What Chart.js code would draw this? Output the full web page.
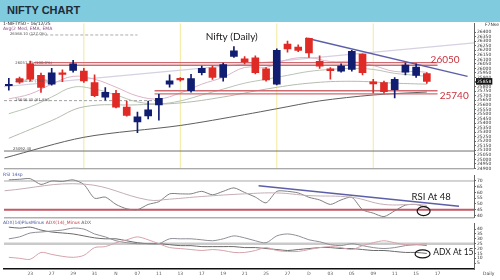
<!DOCTYPE html>
<html>
<head>
<meta charset="utf-8">
<script src="https://cdn.jsdelivr.net/npm/chart.js@4.4.1/dist/chart.umd.min.js"></script>
<style>
  html, body { margin: 0; padding: 0; background: #fff; }
  #wrap { position: relative; width: 500px; height: 280px; overflow: hidden; background: #fff; }
  #head { position: absolute; left: 0; top: 0; width: 500px; height: 22px; background: #80cbdd; }
  #head span { position: absolute; left: 7px; top: 4px; font: bold 11px 'Liberation Sans Narrow', 'Liberation Sans', sans-serif; color: #1d2a3a; }
  canvas { position: absolute; left: 0; }
</style>
</head>
<body>
<div id="wrap">
  <div id="head"><span>NIFTY CHART</span></div>
  <canvas id="priceChart" width="500" height="152" style="top:20px"></canvas>
  <canvas id="rsiChart" width="500" height="49" style="top:172px"></canvas>
  <canvas id="adxChart" width="500" height="60" style="top:220px"></canvas>
</div>
<script>
// Velas diarias (índice 0 = 20 oct ... 39 = 16 dic)
const opens = [25810, 25889, 26051, 25924, 25827, 25940, 25978, 25971, 25845, 25683, 25726, 25575, 25413, 25478, 25600, 25827, 25892, 25755, 25953, 26008, 25900, 26133, 26105, 26116, 25997, 25827, 26267, 26234, 26332, 26079, 25997, 25971, 25989, 26159, 25852, 25845, 25766, 25960, 25924, 25943]
const closes = [25825, 25850, 25881, 25791, 25953, 25935, 26051, 25863, 25700, 25737, 25575, 25484, 25467, 25546, 25672, 25863, 25873, 25889, 26000, 25900, 26043, 26195, 26072, 25953, 25873, 26198, 26216, 26198, 26170, 26025, 25975, 26025, 26187, 25953, 25830, 25744, 25881, 26036, 26014, 25858]
const highs = [25890, 25905, 26080, 25950, 26000, 25985, 26090, 26000, 25930, 25790, 25760, 25640, 25521, 25640, 25715, 25930, 25900, 25935, 26025, 26030, 26060, 26240, 26130, 26140, 26010, 26215, 26300, 26260, 26335, 26140, 26010, 26050, 26200, 26160, 25880, 25860, 25900, 26060, 26050, 25955]
const lows = [25760, 25835, 25860, 25735, 25815, 25855, 25960, 25845, 25690, 25650, 25565, 25475, 25294, 25445, 25430, 25795, 25860, 25740, 25930, 25880, 25860, 26120, 26050, 25940, 25860, 25820, 26180, 26185, 26120, 26000, 25881, 25960, 25970, 25930, 25730, 25728, 25675, 25930, 25900, 25835]

// Medias móviles (cada dos velas)
const maIdx = [0, 2, 4, 6, 8, 10, 12, 14, 16, 18, 20, 22, 24, 26, 28, 30, 32, 34, 36, 38, 39]
const maFast = [25665, 25719, 25827, 25913, 25881, 25794, 25697, 25665, 25730, 25827, 25903, 26011, 26011, 26097, 26119, 26076, 26076, 26032, 25967, 25967, 25957]
const maMid = [25502, 25578, 25686, 25794, 25773, 25708, 25632, 25611, 25643, 25708, 25773, 25838, 25881, 25924, 25967, 25989, 26000, 25989, 25946, 25924, 25913]
const maSlowIdx = [0, 4, 7, 12, 16, 20, 24, 28, 32, 36, 39]
const maSlow = [25232, 25427, 25578, 25600, 25621, 25686, 25773, 25838, 25859, 25838, 25827]
const maLongIdx = [-0.4, 7, 16, 22, 25, 29, 34, 39]
const maLong = [25016, 25243, 25373, 25492, 25557, 25643, 25708, 25741]

// Niveles y líneas de tendencia
const resistance = 26050
const support = 25740
const fibValues = [26368, 26052, 25850, 25646]
const fibText = ['26368.10 (127.0%)', '26051.75 (100.0%)', '25850.20 (78.6%)', '25646.35 (61.8%)']
const baseLevel = 25092
const baseText = '25092.40'
const trendIdx = [27.7, 42.8]
const trendPrice = [26335, 25913]
const channelIdx = [-0.45, 43.4]
const channelPrice = [25799, 26281]
const cycleIdx = [7, 16, 25, 34]

// RSI
const rsi = [71, 71.5, 72, 67, 70, 69.6, 71, 67, 55, 56, 49.6, 45.8, 45, 49.6, 52, 58.8, 58.8, 58.8, 61, 58, 61, 64, 60, 56, 51, 61, 61, 59.6, 55.8, 53.5, 49.6, 53.5, 55.8, 45, 42, 39, 44, 49, 49.5, 47]
const rsiAvgIdx = [-0.4, 7, 13, 15, 18, 22, 25, 28, 32, 35, 38, 39]
const rsiAvg = [61.5, 67.3, 53.5, 54.2, 56.5, 58.8, 59.6, 57.3, 55.8, 49.6, 49.6, 48.8]
const rsiTrendIdx = [23.3, 42]
const rsiTrend = [65.8, 48]
const rsiLevels = [70, 45]

// ADX
const adx = [42, 41, 42, 39, 37, 36, 35, 33, 31, 30, 30, 28, 26, 25, 25, 24, 23, 23, 22, 22, 22, 22, 21, 21, 20, 19, 18, 19, 20, 21, 21, 20, 20, 19, 18, 18, 17, 16, 16, 15]
const plusDI = [30, 32, 36, 37, 38, 39, 41, 40, 35, 32, 28, 26, 25, 25, 25, 30, 30, 30, 29, 28, 30, 33, 31, 28, 26, 33, 35, 33, 29, 27, 24, 23, 25, 23, 21, 20, 21, 23, 24, 23]
const minusDI = [11, 10, 9, 16, 14, 12, 11, 13, 21, 22, 26, 29, 32, 29, 25, 21, 20, 19, 18, 19, 18, 16, 16, 18, 21, 18, 17, 17, 19, 21, 22, 21, 19, 23, 26, 28, 26, 24, 24, 25]
const adxLevel = 25

// Ejes
const priceTicks = []
for (let v = 24900; v <= 26400; v += 50) priceTicks.push(v)
const rsiTicks = [70, 65, 60, 55, 50, 45, 40]
const adxTicks = [40, 35, 30, 25, 20, 15, 10, 5]
const dayTicks = [2, 4, 6, 8, 10, 12, 14, 16, 18, 20, 22, 24, 26, 28, 30, 32, 34, 36, 38, 40]
const dayLabels = ['23', '27', '29', '31', 'N', '07', '11', '13', '17', '19', '21', '25', '27', 'D', '03', '05', '09', '11', '15', '17']

const lastPrice = closes[closes.length - 1]
const xMin = -0.45
const xMax = 43.4
const RED = '#e02a26'
const NAVY = '#111d70'
const BLUE_LINE = '#5c5fa8'

Chart.defaults.font.family = 'DejaVu Sans'
Chart.defaults.animation = false

// Utilidades
const pts = (xs, ys) => xs.map((x, i) => ({ x, y: ys[i] }))
const series = (ys) => ys.map((y, i) => ({ x: i, y }))
const line = (data, color, width, extra = {}) => ({
  type: 'line',
  data,
  borderColor: color,
  borderWidth: width,
  pointRadius: 0,
  fill: false,
  order: 6,
  ...extra,
})
const hline = (value, from, to, color, width, extra = {}) =>
  line([{ x: from, y: value }, { x: to, y: value }], color, width, extra)

const rightAxis = (min, max, values, extra = {}) => ({
  position: 'right',
  min,
  max,
  afterBuildTicks: (s) => {
    s.ticks = values.map((v) => ({ value: v }))
  },
  afterFit: (s) => {
    s.width = 26
  },
  grid: { drawOnChartArea: false, tickLength: 2, color: '#666' },
  border: { display: true, color: '#666' },
  ticks: {
    autoSkip: false,
    padding: 1,
    color: '#333',
    font: { size: 4.5, lineHeight: 1 },
    callback: (v) => String(v),
    ...extra,
  },
})

const baseOptions = (yScale, padding, xExtra = {}) => ({
  responsive: false,
  animation: false,
  layout: { padding },
  plugins: { legend: { display: false }, tooltip: { enabled: false } },
  elements: { point: { radius: 0 } },
  scales: {
    x: { type: 'linear', min: xMin, max: xMax, offset: false, display: false, ...xExtra },
    y: yScale,
  },
})

function text(ctx, str, x, y, font, color, align = 'left', base = 'middle') {
  ctx.save()
  ctx.font = font
  ctx.fillStyle = color
  ctx.textAlign = align
  ctx.textBaseline = base
  ctx.fillText(str, x, y)
  ctx.restore()
}

function bottomBorder(chart, color, width) {
  const { ctx, chartArea } = chart
  ctx.save()
  ctx.strokeStyle = color
  ctx.lineWidth = width
  ctx.beginPath()
  ctx.moveTo(chartArea.left, chartArea.bottom)
  ctx.lineTo(chartArea.right, chartArea.bottom)
  ctx.stroke()
  ctx.restore()
}

function ellipse(chart, xv, yv, rx, ry) {
  const { ctx, scales } = chart
  ctx.save()
  ctx.strokeStyle = '#111'
  ctx.lineWidth = 1.2
  ctx.beginPath()
  ctx.ellipse(scales.x.getPixelForValue(xv), scales.y.getPixelForValue(yv), rx, ry, 0, 0, Math.PI * 2)
  ctx.stroke()
  ctx.restore()
}

// Gráfico de precio
const idx = closes.map((_, i) => i)
const candleColor = idx.map((i) => (closes[i] >= opens[i] ? NAVY : RED))

const priceNotes = {
  id: 'priceNotes',
  afterDatasetsDraw(chart) {
    const { ctx, scales: { x, y } } = chart
    bottomBorder(chart, '#8c8c8c', 1)
    text(ctx, '1-NIFTY50 - 16/12/25', 3, 4, '4.5px DejaVu Sans', '#222')
    text(ctx, 'Avg(2 Med, EMA, EMA', 3, 9, '4.5px DejaVu Sans', '#8a4a8a')
    text(ctx, 'F7Nse', 485, 5, '4.5px DejaVu Sans', '#333')
    fibValues.forEach((v, i) => {
      text(ctx, fibText[i], x.getPixelForValue(i === 0 ? 0.1 : 0.6), y.getPixelForValue(v) - 1, '3.8px DejaVu Sans', '#555')
    })
    text(ctx, baseText, x.getPixelForValue(0.4), y.getPixelForValue(baseLevel) - 2.5, '3.8px DejaVu Sans', '#444')
    text(ctx, 'Nifty (Daily)', x.getPixelForValue(20.8), y.getPixelForValue(26346), '10px Lato', '#1a1a1a', 'center')
    text(ctx, String(resistance), x.getPixelForValue(39.35), y.getPixelForValue(26062), '10px Lato', '#c8323c', 'left', 'alphabetic')
    text(ctx, String(support), x.getPixelForValue(40.2), y.getPixelForValue(25703), '10px Lato', '#c8323c')
  },
}

new Chart(document.getElementById('priceChart'), {
  type: 'line',
  data: {
    datasets: [
      {
        type: 'bar',
        data: idx.map((i) => ({ x: i, y: [lows[i], highs[i]] })),
        backgroundColor: candleColor,
        barThickness: 1,
        grouped: false,
        order: 1,
      },
      {
        type: 'bar',
        data: idx.map((i) => ({ x: i, y: [opens[i], closes[i]] })),
        backgroundColor: candleColor,
        barThickness: 7,
        minBarLength: 1.5,
        grouped: false,
        order: 0,
      },
      ...cycleIdx.map((c) => line([{ x: c, y: 24897 }, { x: c, y: 26497 }], '#f1ea98', 1, { order: 9 })),
      line(pts(channelIdx, channelPrice), '#d6d0e2', 1.2, { order: 8 }),
      line(pts(maLongIdx, maLong), '#5e5e5e', 1, { tension: 0.3 }),
      line(pts(maSlowIdx, maSlow), '#b4bcae', 1, { tension: 0.4 }),
      line(pts(maIdx, maMid), '#b8c4b4', 1, { tension: 0.4 }),
      line(pts(maIdx, maFast), '#dcb4c8', 1, { tension: 0.4 }),
      hline(fibValues[0], 2, 12, '#aaaaaa', 1, { borderDash: [3, 2] }),
      hline(fibValues[3], xMin, 13.8, '#a0a0a0', 1, { borderDash: [3, 2] }),
      hline(baseLevel, xMin, xMax, '#707070', 1),
      hline(resistance + 15, 2.3, 40, '#cf6b70', 1.3, { order: 3 }),
      hline(resistance - 15, 2.3, 40, '#cf6b70', 1.3, { order: 3 }),
      hline(support + 15, 13.6, 40, '#cf6b70', 1.3, { order: 3 }),
      hline(support - 20, 13.6, 40, '#cf6b70', 1.3, { order: 3 }),
      line(pts(trendIdx, trendPrice), BLUE_LINE, 1.5, { order: 2 }),
    ],
  },
  options: baseOptions(
    {
      ...rightAxis(24897, 26497, priceTicks),
      afterBuildTicks: (s) => {
        s.ticks = [...priceTicks.map((v) => ({ value: v })), { value: lastPrice }]
      },
      ticks: {
        autoSkip: false,
        padding: 1,
        font: { size: 4.5, lineHeight: 1 },
        callback: (v) => String(v),
        color: (c) => (c.tick && c.tick.value === lastPrice ? '#fff' : '#333'),
        showLabelBackdrop: true,
        backdropPadding: 1,
        backdropColor: (c) => (c.tick && c.tick.value === lastPrice ? '#111' : 'rgba(0,0,0,0)'),
      },
    },
    { left: 4, top: 3, bottom: 1, right: 0 }
  ),
  plugins: [priceNotes],
})

// Gráfico RSI
const rsiNotes = {
  id: 'rsiNotes',
  afterDatasetsDraw(chart) {
    const { ctx, scales: { x, y } } = chart
    bottomBorder(chart, '#b0b0b0', 1.5)
    text(ctx, 'RSI 14sp', 3, 2.5, '4.5px DejaVu Sans', '#4a5aa0')
    text(ctx, 'RSI At 48', x.getPixelForValue(39.4), y.getPixelForValue(55.8), '9.5px Lato', '#1a1a1a', 'center')
    ellipse(chart, 38.7, 43.8, 6.5, 4.5)
  },
}

new Chart(document.getElementById('rsiChart'), {
  type: 'line',
  data: {
    datasets: [
      hline(rsiLevels[0], xMin, xMax, '#a8a8a8', 1, { order: 8 }),
      hline(rsiLevels[1], xMin, xMax, '#c45866', 2, { order: 8 }),
      line(pts(rsiAvgIdx, rsiAvg), '#c4aeb6', 1, { tension: 0.4 }),
      line(series(rsi), '#808080', 1, { tension: 0.25 }),
      line(pts(rsiTrendIdx, rsiTrend), BLUE_LINE, 1.5, { order: 2 }),
    ],
  },
  options: baseOptions(rightAxis(38, 75, rsiTicks), { left: 4, top: 0, bottom: 1, right: 0 }),
  plugins: [rsiNotes],
})

// Gráfico ADX
const adxNotes = {
  id: 'adxNotes',
  afterDatasetsDraw(chart) {
    const { ctx, scales: { x, y } } = chart
    ctx.save()
    ctx.font = '4.5px DejaVu Sans'
    ctx.textBaseline = 'middle'
    let px = 3
    ;[['ADX(14)PlusMinus ', '#4a5aa0'], ['ADX(14)_Minus ', '#c04050'], ['ADX', '#555']].forEach(([t, c]) => {
      ctx.fillStyle = c
      ctx.fillText(t, px, 2.5)
      px += ctx.measureText(t).width
    })
    ctx.restore()
    text(ctx, 'ADX At 15', x.getPixelForValue(39.6), y.getPixelForValue(16), '8.5px Lato', '#1a1a1a', 'left')
    ellipse(chart, 38.6, 14.5, 7.5, 4)
    text(ctx, 'Daily', 483, 54, '4.5px DejaVu Sans', '#444')
  },
}

new Chart(document.getElementById('adxChart'), {
  type: 'line',
  data: {
    datasets: [
      hline(adxLevel, xMin, xMax, '#cacaca', 2.5, { order: 9 }),
      line(series(minusDI), '#d6a2aa', 1, { tension: 0.3 }),
      line(series(plusDI), '#8e8e98', 1, { tension: 0.3 }),
      line(series(adx), '#6a6a6a', 1, { tension: 0.3 }),
    ],
  },
  options: baseOptions(
    rightAxis(-1, 46, adxTicks),
    { left: 4, top: 2, bottom: 0, right: 0 },
    {
      display: true,
      afterBuildTicks: (s) => {
        s.ticks = dayTicks.map((v) => ({ value: v }))
      },
      afterFit: (s) => {
        s.height = 11
      },
      grid: { display: false, drawTicks: false },
      border: { display: true, color: '#111', width: 1.5 },
      ticks: {
        autoSkip: false,
        maxRotation: 0,
        padding: 3,
        color: '#555',
        font: { size: 4.5, lineHeight: 1 },
        callback: (v, i) => dayLabels[i],
      },
    }
  ),
  plugins: [adxNotes],
})
</script>
</body>
</html>
